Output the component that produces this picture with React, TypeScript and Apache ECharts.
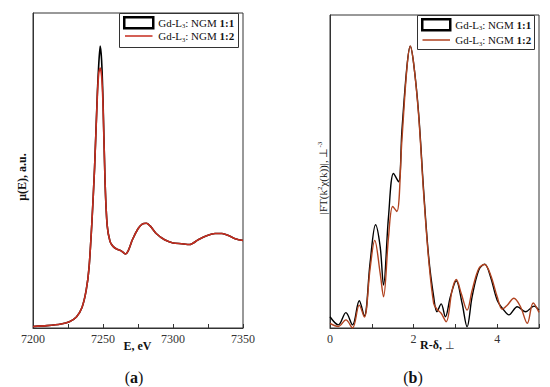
import React, { useEffect, useRef } from "react";
import * as echarts from "echarts";

// ---- Data: panel (a) XANES ----
const energyEV = [7200, 7210, 7220, 7226, 7231, 7235, 7238, 7240, 7242, 7244, 7246, 7247, 7248, 7249, 7250, 7251.5, 7253, 7255, 7257, 7260, 7263, 7266, 7268, 7271, 7275, 7278, 7281, 7284, 7288, 7294, 7300, 7306, 7312, 7318, 7324, 7330, 7335, 7340, 7345, 7350];
const muNGM11 = [0.01, 0.015, 0.025, 0.04, 0.07, 0.13, 0.24, 0.38, 0.66, 1.02, 1.5, 1.68, 1.79, 1.7, 1.45, 0.92, 0.65, 0.55, 0.52, 0.5, 0.49, 0.47, 0.49, 0.56, 0.63, 0.66, 0.665, 0.645, 0.6, 0.56, 0.54, 0.535, 0.53, 0.56, 0.585, 0.6, 0.6, 0.585, 0.565, 0.555];
const muNGM12 = [0.01, 0.015, 0.025, 0.04, 0.07, 0.13, 0.24, 0.38, 0.66, 1.02, 1.48, 1.62, 1.65, 1.6, 1.42, 0.92, 0.65, 0.55, 0.52, 0.5, 0.49, 0.47, 0.49, 0.56, 0.63, 0.66, 0.665, 0.645, 0.6, 0.56, 0.54, 0.535, 0.53, 0.56, 0.585, 0.6, 0.6, 0.585, 0.565, 0.555];
const energyTicks = [7200, 7250, 7300, 7350];

// ---- Data: panel (b) FT EXAFS ----
const rBlack = [0, 0.2, 0.38, 0.54, 0.7, 0.82, 0.96, 1.09, 1.2, 1.28, 1.4, 1.52, 1.64, 1.72, 1.84, 1.92, 2.0, 2.12, 2.24, 2.36, 2.48, 2.56, 2.66, 2.76, 2.88, 3.02, 3.16, 3.28, 3.4, 3.56, 3.7, 3.84, 4.0, 4.16, 4.28, 4.48, 4.68, 4.88, 5.0];
const ftNGM11 = [0.036, 0.01, 0.049, 0.01, 0.087, 0.038, 0.21, 0.33, 0.26, 0.137, 0.356, 0.494, 0.467, 0.63, 0.835, 0.9, 0.846, 0.686, 0.44, 0.228, 0.1, 0.052, 0.077, 0.036, 0.1, 0.151, 0.079, 0.004, 0.1, 0.185, 0.204, 0.164, 0.089, 0.057, 0.042, 0.068, 0.052, 0.07, 0.057];
const rRed = [0, 0.2, 0.38, 0.54, 0.7, 0.82, 0.96, 1.07, 1.2, 1.28, 1.4, 1.5, 1.6, 1.72, 1.84, 1.92, 2.0, 2.12, 2.24, 2.36, 2.48, 2.56, 2.66, 2.78, 2.92, 3.02, 3.14, 3.28, 3.4, 3.56, 3.7, 3.84, 4.0, 4.12, 4.24, 4.4, 4.56, 4.72, 4.86, 5.0];
const ftNGM12 = [0.015, 0.005, 0.026, 0.0, 0.073, 0.035, 0.19, 0.28, 0.175, 0.1, 0.29, 0.388, 0.372, 0.6, 0.83, 0.9, 0.846, 0.68, 0.43, 0.22, 0.079, 0.06, 0.047, 0.02, 0.12, 0.155, 0.11, 0.057, 0.12, 0.19, 0.203, 0.17, 0.1, 0.06, 0.073, 0.095, 0.067, 0.015, 0.08, 0.05];
const rTicks = [0, 2, 4];

const SERIF = "Liberation Serif, Times New Roman, serif";
const RED_A = "#c62d1f";
const RED_B = "#b0421f";
const LINE_ICON = "path://M0,0H0.01V0.01H0Z M0,5.2H30V6.8H0Z M0,11.99H0.01V12H0Z";

function pairs(x: number[], y: number[]) {
  return x.map((v, i) => [v, y[i]]);
}

export default function App() {
  const ref = useRef<HTMLDivElement>(null);
  useEffect(() => {
    if (!ref.current) return;
    const chart = echarts.init(ref.current, null, { renderer: "svg" });
    const legendRich = {
      n: { fontFamily: SERIF, fontSize: 11, color: "#111" },
      s: { fontFamily: SERIF, fontSize: 6.5, color: "#111", padding: [6, 0, 0, 0] },
      b: { fontFamily: SERIF, fontSize: 11, fontWeight: "bold", color: "#111" },
    };
    const legendFmt = (name: string) => {
      const ratio = name.endsWith("11") ? "1:1" : "1:2";
      return `{n|Gd-L}{s|3}{n|: NGM }{b|${ratio}}`;
    };
    const axisCommon = {
      axisLine: { lineStyle: { color: "#333", width: 1 } },
      axisTick: { inside: true, length: 4, lineStyle: { color: "#333" } },
      splitLine: { show: false },
      axisLabel: { fontFamily: SERIF, fontSize: 12, color: "#333", margin: 5 },
    };
    const legendBase = {
      orient: "vertical",
      itemHeight: 11,
      padding: 0,
      borderWidth: 0,
      itemGap: 2,
      formatter: legendFmt,
      textStyle: { fontFamily: SERIF, rich: legendRich },
    };
    chart.setOption({
      animation: false,
      backgroundColor: "#fff",
      textStyle: { fontFamily: SERIF },
      grid: [
        { left: 33, top: 13, width: 210, height: 315, show: true, borderColor: "#333", borderWidth: 1 },
        { left: 330, top: 15, width: 209, height: 313, show: true, borderColor: "#333", borderWidth: 1 },
      ],
      xAxis: [
        {
          gridIndex: 0,
          type: "value",
          min: 7200,
          max: 7350,
          interval: 50,
          ...axisCommon,
          minorTick: { show: true, splitNumber: 2, length: 4, lineStyle: { color: "#333" } },
          axisLabel: {
            ...axisCommon.axisLabel,
            formatter: (v: number) => (energyTicks.includes(v) ? String(v) : ""),
          },
        },
        {
          gridIndex: 1,
          type: "value",
          min: 0,
          max: 5,
          interval: 1,
          ...axisCommon,
          axisLabel: {
            ...axisCommon.axisLabel,
            formatter: (v: number) => (rTicks.includes(v) ? String(v) : ""),
          },
        },
      ],
      yAxis: [
        { gridIndex: 0, type: "value", min: 0, max: 2, axisLine: { lineStyle: { color: "#333" } }, axisTick: { show: false }, axisLabel: { show: false }, splitLine: { show: false } },
        { gridIndex: 1, type: "value", min: 0, max: 1, axisLine: { lineStyle: { color: "#333" } }, axisTick: { show: false }, axisLabel: { show: false }, splitLine: { show: false } },
      ],
      legend: [
        {
          ...legendBase,
          left: 123,
          top: 16,
          itemWidth: 29,
          itemGap: 1,
          data: [
            { name: "a11", icon: "rect", itemStyle: { color: "#fff", borderColor: "#000", borderWidth: 2.5 } },
            { name: "a12", icon: LINE_ICON, itemStyle: { color: RED_A, borderWidth: 0 } },
          ],
        },
        {
          ...legendBase,
          left: 421,
          top: 18,
          itemWidth: 28,
          itemGap: 3,
          data: [
            { name: "b11", icon: "rect", itemStyle: { color: "#fff", borderColor: "#000", borderWidth: 2.5 } },
            { name: "b12", icon: LINE_ICON, itemStyle: { color: RED_B, borderWidth: 0 } },
          ],
        },
      ],
      series: [
        { name: "a11", type: "line", xAxisIndex: 0, yAxisIndex: 0, data: pairs(energyEV, muNGM11), symbol: "none", smooth: 0.25, lineStyle: { color: "#000", width: 1.6 }, itemStyle: { color: "#000" } },
        { name: "a12", type: "line", xAxisIndex: 0, yAxisIndex: 0, data: pairs(energyEV, muNGM12), symbol: "none", smooth: 0.25, lineStyle: { color: RED_A, width: 1.6 }, itemStyle: { color: RED_A } },
        { name: "b11", type: "line", xAxisIndex: 1, yAxisIndex: 1, data: pairs(rBlack, ftNGM11), symbol: "none", smooth: 0.35, lineStyle: { color: "#000", width: 1.4 }, itemStyle: { color: "#000" } },
        { name: "b12", type: "line", xAxisIndex: 1, yAxisIndex: 1, data: pairs(rRed, ftNGM12), symbol: "none", smooth: 0.35, lineStyle: { color: RED_B, width: 1.4 }, itemStyle: { color: RED_B } },
      ],
      graphic: [
        { type: "rect", z: 3, shape: { x: 119.5, y: 13.5, width: 119, height: 34 }, style: { fill: "#fff", stroke: "#333", lineWidth: 1 } },
        { type: "rect", z: 3, shape: { x: 417.5, y: 15.5, width: 117, height: 34 }, style: { fill: "#fff", stroke: "#333", lineWidth: 1 } },
        {
          type: "text",
          x: 22,
          y: 177,
          rotation: Math.PI / 2,
          style: { text: "μ(E), a.u.", fontFamily: SERIF, fontSize: 12, fontWeight: "bold", fill: "#111", textAlign: "center", textVerticalAlign: "middle" },
        },
        {
          type: "text",
          x: 323,
          y: 178,
          rotation: Math.PI / 2,
          style: {
            text: "{n||FT(k}{p|2}{n|χ(k))|, ⊥}{p|-3}",
            textAlign: "center",
            textVerticalAlign: "middle",
            rich: {
              n: { fontFamily: SERIF, fontSize: 11, fill: "#111" },
              p: { fontFamily: SERIF, fontSize: 7, fill: "#111", padding: [0, 0, 6, 0] },
            },
          },
        },
        {
          type: "text",
          x: 137.5,
          y: 346,
          style: { text: "E, eV", fontFamily: SERIF, fontSize: 12, fontWeight: "bold", fill: "#111", textAlign: "center", textVerticalAlign: "middle" },
        },
        {
          type: "text",
          x: 420,
          y: 345,
          style: {
            text: "{b|R-δ, }{n|⊥}",
            textAlign: "left",
            textVerticalAlign: "middle",
            rich: {
              b: { fontFamily: SERIF, fontSize: 12, fontWeight: "bold", fill: "#111" },
              n: { fontFamily: SERIF, fontSize: 11, fill: "#444" },
            },
          },
        },
        {
          type: "text",
          x: 134,
          y: 377,
          style: {
            text: "{n|(}{b|a}{n|)}",
            textAlign: "center",
            textVerticalAlign: "middle",
            rich: {
              n: { fontFamily: SERIF, fontSize: 16, fill: "#111" },
              b: { fontFamily: SERIF, fontSize: 16, fontWeight: "bold", fill: "#111" },
            },
          },
        },
        {
          type: "text",
          x: 413,
          y: 377,
          style: {
            text: "{n|(}{b|b}{n|)}",
            textAlign: "center",
            textVerticalAlign: "middle",
            rich: {
              n: { fontFamily: SERIF, fontSize: 16, fill: "#111" },
              b: { fontFamily: SERIF, fontSize: 16, fontWeight: "bold", fill: "#111" },
            },
          },
        },
      ],
    });
    return () => chart.dispose();
  }, []);
  return <div ref={ref} style={{ position: "fixed", left: 0, top: 0, width: 550, height: 387 }} />;
}
